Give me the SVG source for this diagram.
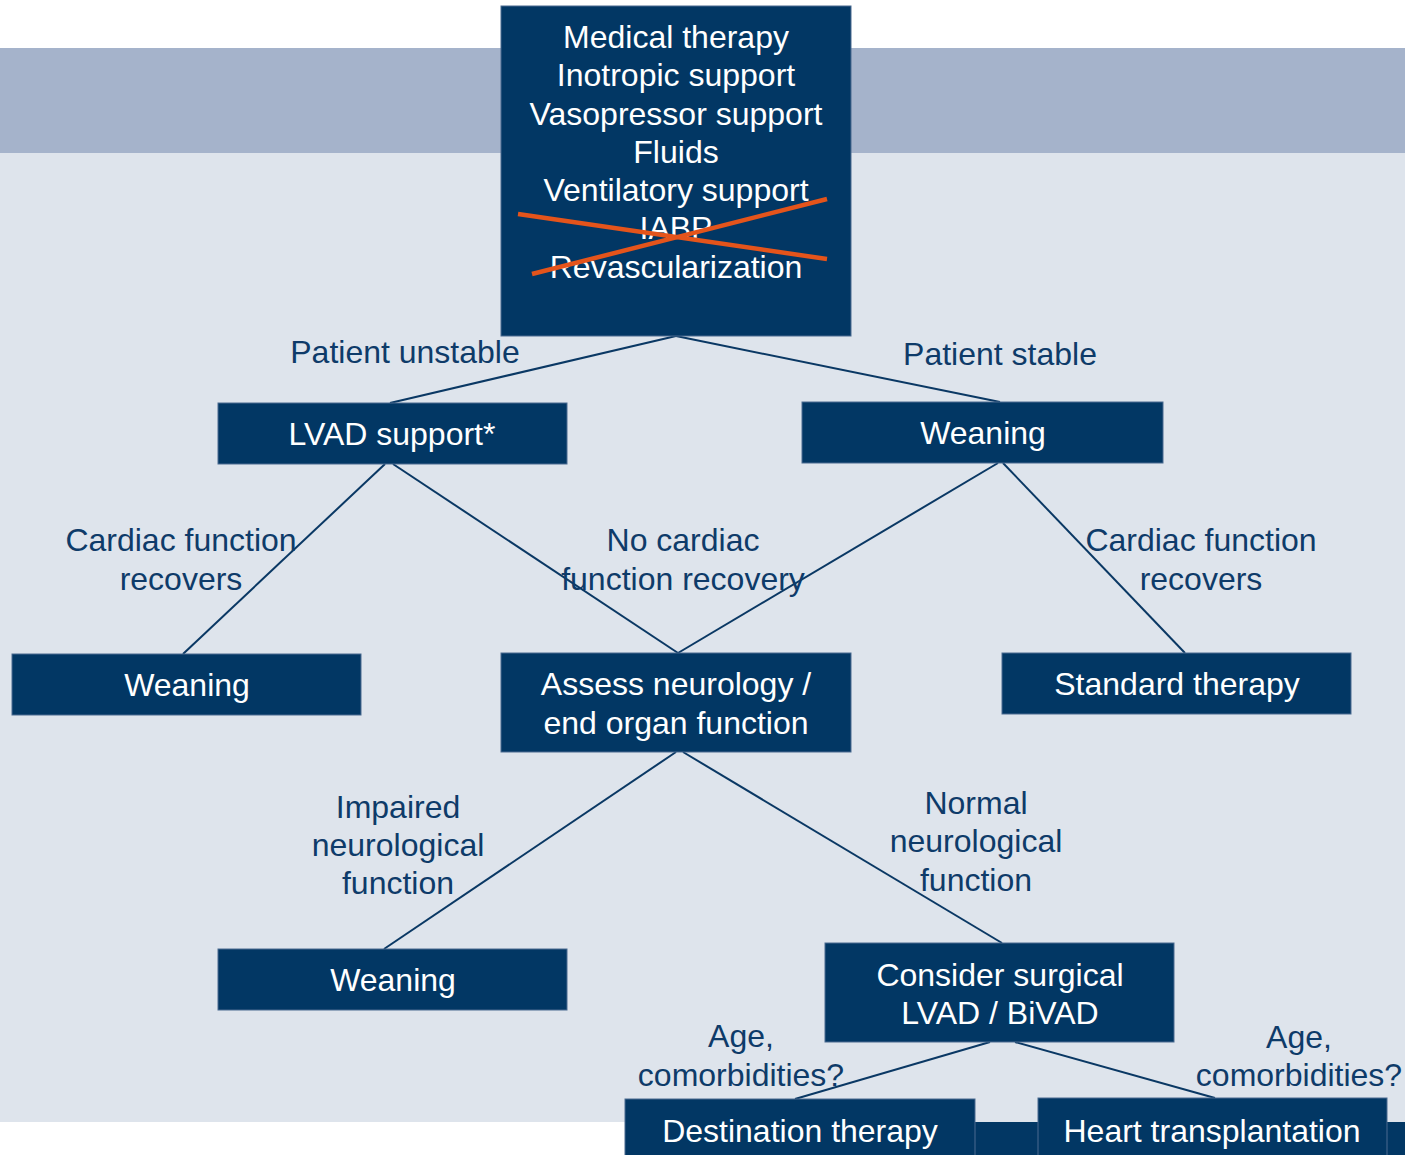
<svg xmlns="http://www.w3.org/2000/svg" width="1405" height="1155" viewBox="0 0 1405 1155">
  <style>
    .box { fill: #023764; stroke: #4a6b90; stroke-width: 1; }
    .bt { fill: #ffffff; font-family: "Liberation Sans", Arial, sans-serif; font-size: 32px; text-anchor: middle; }
    .lbl { fill: #0e3b69; font-family: "Liberation Sans", Arial, sans-serif; font-size: 32px; text-anchor: middle; }
    .conn line { stroke: #0a3864; stroke-width: 2; }
    .cross { stroke: #e4541b; stroke-width: 4.5; stroke-linecap: butt; }
  </style>

  <!-- background -->
  <rect x="0" y="0" width="1405" height="1155" fill="#ffffff"/>
  <rect x="0" y="153" width="1405" height="969" fill="#dee4ec"/>
  <rect x="0" y="48" width="1405" height="105" fill="#a5b3cb"/>
  <rect x="625" y="1122" width="780" height="33" fill="#023764"/>

  <!-- connectors -->
  <g id="connectors" class="conn">
    <line x1="676" y1="336" x2="390" y2="403"/>
    <line x1="676" y1="336" x2="1000" y2="402"/>
    <line x1="385" y1="464" x2="183" y2="654"/>
    <line x1="393" y1="464" x2="678" y2="653"/>
    <line x1="998" y1="463" x2="678" y2="653"/>
    <line x1="1003" y1="463" x2="1185" y2="653"/>
    <line x1="676" y1="752" x2="384" y2="949"/>
    <line x1="683" y1="752" x2="1002" y2="943"/>
    <line x1="990" y1="1042" x2="795" y2="1099"/>
    <line x1="1015" y1="1042" x2="1215" y2="1098"/>
  </g>

  <!-- edge labels -->
  <g id="labels">
    <text class="lbl" x="405" y="363">Patient unstable</text>
    <text class="lbl" x="1000" y="365">Patient stable</text>
    <text class="lbl" x="181" y="551">Cardiac function</text>
    <text class="lbl" x="181" y="590">recovers</text>
    <text class="lbl" x="683" y="551">No cardiac</text>
    <text class="lbl" x="683" y="590">function recovery</text>
    <text class="lbl" x="1201" y="551">Cardiac function</text>
    <text class="lbl" x="1201" y="590">recovers</text>
    <text class="lbl" x="398" y="818">Impaired</text>
    <text class="lbl" x="398" y="856">neurological</text>
    <text class="lbl" x="398" y="894">function</text>
    <text class="lbl" x="976" y="814">Normal</text>
    <text class="lbl" x="976" y="852">neurological</text>
    <text class="lbl" x="976" y="891">function</text>
    <text class="lbl" x="741" y="1047">Age,</text>
    <text class="lbl" x="741" y="1086">comorbidities?</text>
    <text class="lbl" x="1299" y="1048">Age,</text>
    <text class="lbl" x="1299" y="1086">comorbidities?</text>
  </g>

  <!-- initial management -->
  <g id="node-initial">
    <rect class="box" x="501" y="6" width="350" height="330"/>
    <text class="bt" x="676" y="48">Medical therapy</text>
    <text class="bt" x="676" y="86">Inotropic support</text>
    <text class="bt" x="676" y="125">Vasopressor support</text>
    <text class="bt" x="676" y="163">Fluids</text>
    <text class="bt" x="676" y="201">Ventilatory support</text>
    <text class="bt" x="676" y="239">IABP</text>
    <text class="bt" x="676" y="278">Revascularization</text>
    <line class="cross" x1="518" y1="214" x2="827" y2="259"/>
    <line class="cross" x1="532" y1="274" x2="827" y2="199"/>
  </g>

  <g id="node-lvad">
    <rect class="box" x="218" y="403" width="349" height="61"/>
    <text class="bt" x="392" y="445">LVAD support*</text>
  </g>

  <g id="node-weaning-stable">
    <rect class="box" x="802" y="402" width="361" height="61"/>
    <text class="bt" x="983" y="444">Weaning</text>
  </g>

  <g id="node-weaning-recovered">
    <rect class="box" x="12" y="654" width="349" height="61"/>
    <text class="bt" x="187" y="696">Weaning</text>
  </g>

  <g id="node-assess">
    <rect class="box" x="501" y="653" width="350" height="99"/>
    <text class="bt" x="676" y="695">Assess neurology /</text>
    <text class="bt" x="676" y="734">end organ function</text>
  </g>

  <g id="node-standard">
    <rect class="box" x="1002" y="653" width="349" height="61"/>
    <text class="bt" x="1177" y="695">Standard therapy</text>
  </g>

  <g id="node-weaning-impaired">
    <rect class="box" x="218" y="949" width="349" height="61"/>
    <text class="bt" x="393" y="991">Weaning</text>
  </g>

  <g id="node-surgical">
    <rect class="box" x="825" y="943" width="349" height="99"/>
    <text class="bt" x="1000" y="986">Consider surgical</text>
    <text class="bt" x="1000" y="1024">LVAD / BiVAD</text>
  </g>

  <g id="node-destination">
    <rect class="box" x="625" y="1099" width="350" height="60"/>
    <text class="bt" x="800" y="1142">Destination therapy</text>
  </g>

  <g id="node-transplant">
    <rect class="box" x="1038" y="1098" width="349" height="61"/>
    <text class="bt" x="1212" y="1142">Heart transplantation</text>
  </g>
</svg>
